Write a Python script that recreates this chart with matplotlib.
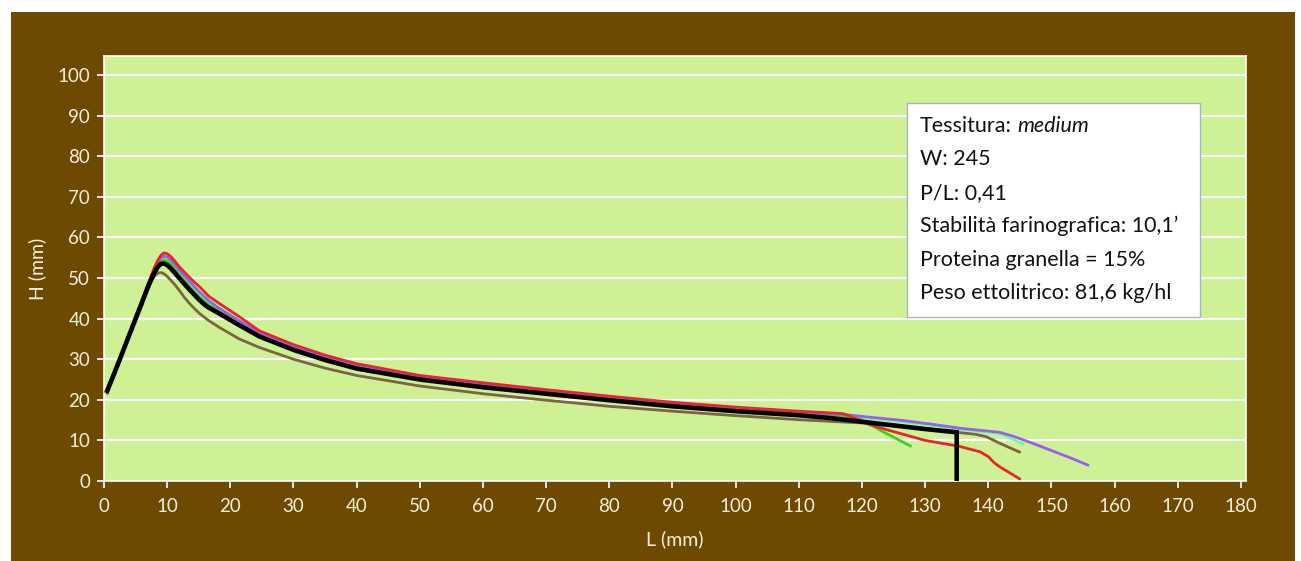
import matplotlib
matplotlib.use('Agg')
import matplotlib.pyplot as plt
from matplotlib.patches import Rectangle

# ---------------- data ----------------
x_ticks = list(range(0, 190, 10))
y_ticks = list(range(0, 110, 10))

black_L = [0.5, 2, 4, 6, 6.5, 7.0, 7.5, 8.0, 8.5, 9.0, 9.5, 10.0, 10.5, 11.2, 11.9, 12.7, 13.5, 14.3, 15.1, 15.8,
           16.6, 17.4, 18.2, 21.4, 24.6, 30, 35, 40, 50, 60, 70, 80, 90, 100, 110, 115, 120, 125, 130, 135, 135]
black_H = [22.2, 28, 36, 44, 46, 48, 49.8, 51.4, 52.7, 53.5, 53.6, 53.2, 52.5, 51.3, 50.0, 48.6, 47.2, 45.9, 44.6,
           43.6, 42.7, 42.0, 41.3, 38.4, 35.6, 32.3, 29.8, 27.7, 25.0, 23.1, 21.5, 19.9, 18.4, 17.2, 16.2, 15.5,
           14.6, 13.7, 12.8, 12.0, 0]

red_L = [0.5, 2, 4, 6, 6.5, 7.0, 7.5, 8.0, 8.5, 9.0, 9.5, 10.0, 10.5, 11.2, 11.9, 12.7, 13.5, 14.3, 15.1, 16.6,
         18.2, 21.4, 24.6, 30, 35, 40, 50, 60, 70, 80, 90, 100, 110, 117, 119, 121, 124, 127, 130, 133, 135.5,
         138.7, 140.0, 141.0, 141.8, 145.0]
red_H = [22.2, 28, 36, 44.2, 46.4, 48.6, 50.7, 52.7, 54.3, 55.6, 56.2, 56.0, 55.4, 54.2, 52.8, 51.5, 50.2, 49.0,
         47.9, 45.5, 43.8, 40.5, 37.0, 33.6, 31.0, 28.9, 26.0, 24.2, 22.5, 20.9, 19.4, 18.2, 17.2, 16.6, 15.4,
         14.0, 12.6, 11.3, 10.0, 9.2, 8.5, 7.2, 6.0, 4.4, 3.5, 0.5]

purple_L = [0.5, 2, 4, 6, 6.5, 7.0, 7.5, 8.0, 8.5, 9.0, 9.5, 10.0, 10.5, 11.2, 11.9, 12.7, 13.5, 14.3, 15.1, 16.6,
            18.2, 21.4, 24.6, 30, 35, 40, 50, 60, 70, 80, 90, 100, 110, 117, 122, 126, 131, 135.5, 141.8, 144,
            147, 150, 153, 155.8]
purple_H = [22.2, 28, 36, 44.1, 46.2, 48.4, 50.4, 52.3, 53.9, 55.0, 55.4, 55.2, 54.6, 53.4, 52.0, 50.6, 49.2, 47.9,
            46.6, 44.4, 42.6, 39.5, 36.4, 33.0, 30.5, 28.4, 25.6, 23.7, 22.1, 20.5, 19.0, 17.8, 16.8, 16.4, 15.6,
            15.0, 14.0, 13.0, 12.0, 11.0, 9.3, 7.5, 5.7, 3.9]

aqua_L = [0.5, 2, 4, 6, 6.5, 7.0, 7.5, 8.0, 8.5, 9.0, 9.5, 10.0, 10.5, 11.2, 11.9, 12.7, 13.5, 14.3, 15.1, 16.6,
          18.2, 21.4, 24.6, 30, 35, 40, 50, 60, 70, 80, 90, 100, 110, 117, 122, 126.3, 131, 135.5, 141.8, 143.5,
          145.5]
aqua_H = [22.2, 28, 36, 44.1, 46.1, 48.3, 50.2, 52.0, 53.6, 54.6, 55.0, 54.8, 54.2, 53.0, 51.6, 50.2, 48.8, 47.5,
          46.2, 44.1, 42.3, 39.2, 36.1, 32.8, 30.3, 28.2, 25.4, 23.5, 21.9, 20.3, 18.8, 17.6, 16.6, 16.1, 15.3,
          14.6, 13.7, 12.8, 11.7, 10.6, 9.1]

green_L = [0.5, 2, 4, 6, 6.5, 7.0, 7.5, 8.0, 8.5, 9.0, 9.5, 10.0, 10.5, 11.2, 11.9, 12.7, 13.5, 14.3, 15.1, 16.6,
           18.2, 21.4, 24.6, 30, 35, 40, 50, 60, 70, 80, 90, 100, 110, 116, 119.7, 123.5, 127.7]
green_H = [22.2, 28, 36, 44.0, 46.0, 48.2, 50.1, 51.8, 53.3, 54.2, 54.5, 54.2, 53.6, 52.4, 50.9, 49.4, 48.0, 46.7,
           45.4, 43.4, 41.9, 38.9, 36.0, 32.6, 30.1, 28.0, 25.3, 23.4, 21.8, 20.2, 18.7, 17.5, 16.5, 16.0, 15.3,
           12.0, 8.6]

brown_L = [0.5, 2, 4, 6, 6.5, 7.0, 7.5, 8.0, 8.6, 9.2, 9.8, 10.5, 11.2, 11.9, 12.7, 13.5, 14.3, 15.1, 16.6, 18.2,
           21.4, 24.6, 30, 35, 40, 50, 60, 70, 80, 90, 100, 110, 116, 120, 125, 130, 135, 138, 139.7, 141.8, 145]
brown_H = [21.6, 27.5, 35.5, 43.2, 45.3, 47.3, 49.1, 50.5, 51.3, 51.3, 50.7, 49.6, 48.4, 47.0, 45.3, 43.8, 42.5,
           41.3, 39.5, 37.9, 35.0, 32.9, 30.0, 27.8, 26.0, 23.4, 21.5, 19.9, 18.4, 17.2, 16.1, 15.1, 14.6, 14.3,
           13.6, 12.8, 12.0, 11.5, 10.9, 9.3, 7.1]

info_lines = ["W: 245", "P/L: 0,41", "Stabilità farinografica: 10,1’",
              "Proteina granella = 15%", "Peso ettolitrico: 81,6 kg/hl"]

# ---------------- style ----------------
W, H = 1301, 561
BROWN = '#6e4a00'
PLOT_BG = '#cef196'
TXT = '#f4eedc'
FONT = ['Lato', 'DejaVu Sans']
plt.rcParams['font.family'] = FONT

fig = plt.figure(figsize=(W / 100, H / 100), dpi=100, facecolor='white')
fig.add_artist(Rectangle((11 / W, 0), (1295 - 11) / W, (561 - 12) / H, transform=fig.transFigure,
                         facecolor=BROWN, edgecolor='none', zorder=0))

ax = fig.add_axes([104 / W, (H - 481) / H, (1246 - 104) / W, (481 - 56) / H])
ax.set_facecolor(PLOT_BG)
ax.set_xlim(0, 180.8)
ax.set_ylim(0, 104.7)
ax.set_xticks(x_ticks)
ax.set_yticks(y_ticks)
ax.tick_params(axis='both', colors='white', labelcolor=TXT, labelsize=13.5, direction='out', length=5, width=1.2)
ax.tick_params(axis='x', pad=7)
ax.tick_params(axis='y', pad=5)
for s in ax.spines.values():
    s.set_color('white')
    s.set_linewidth(1.2)
ax.yaxis.grid(True, color='white', linewidth=1.6)
ax.set_axisbelow(True)

ax.set_xlabel('L (mm)', color=TXT, fontsize=14, labelpad=11)
ax.set_ylabel('H (mm)', color=TXT, fontsize=14, labelpad=8)

lw = 2.0
kw = dict(lw=lw, solid_joinstyle='round', solid_capstyle='round', zorder=3)
ax.plot(brown_L, brown_H, color='#7b6444', **kw)
ax.plot(aqua_L, aqua_H, color='#6dfc9e', **kw)
ax.plot(green_L, green_H, color='#3fd21c', **kw)
ax.plot(purple_L, purple_H, color='#9a5ef2', **kw)
ax.plot(red_L, red_H, color='#e6262c', **kw)
ax.plot(black_L, black_H, color='black', lw=3.3, solid_joinstyle='miter', zorder=4)

# info box
fig.add_artist(Rectangle((907 / W, 1 - 317 / H), (1200 - 907) / W, (317 - 103) / H, transform=fig.transFigure,
                         facecolor='white', edgecolor='#a8b4c4', linewidth=1.0, zorder=5))
fs_box = 15.5
x0 = 920 / W
baselines = [131.7, 165.2, 198.7, 232.2, 265.7, 299.2]
t1 = fig.text(x0, 1 - baselines[0] / H, 'Tessitura:', fontsize=fs_box, color='#111111', va='baseline',
              ha='left', zorder=6)
renderer = fig.canvas.get_renderer()
bb = t1.get_window_extent(renderer)
fig.text((bb.x1 + 5) / W, 1 - baselines[0] / H, 'medium', fontsize=fs_box, style='italic', color='#111111',
         va='baseline', ha='left', zorder=6)
for line, b in zip(info_lines, baselines[1:]):
    fig.text(x0, 1 - b / H, line, fontsize=fs_box, color='#111111', va='baseline', ha='left', zorder=6)

fig.savefig('out.png', dpi=100, facecolor='white')
